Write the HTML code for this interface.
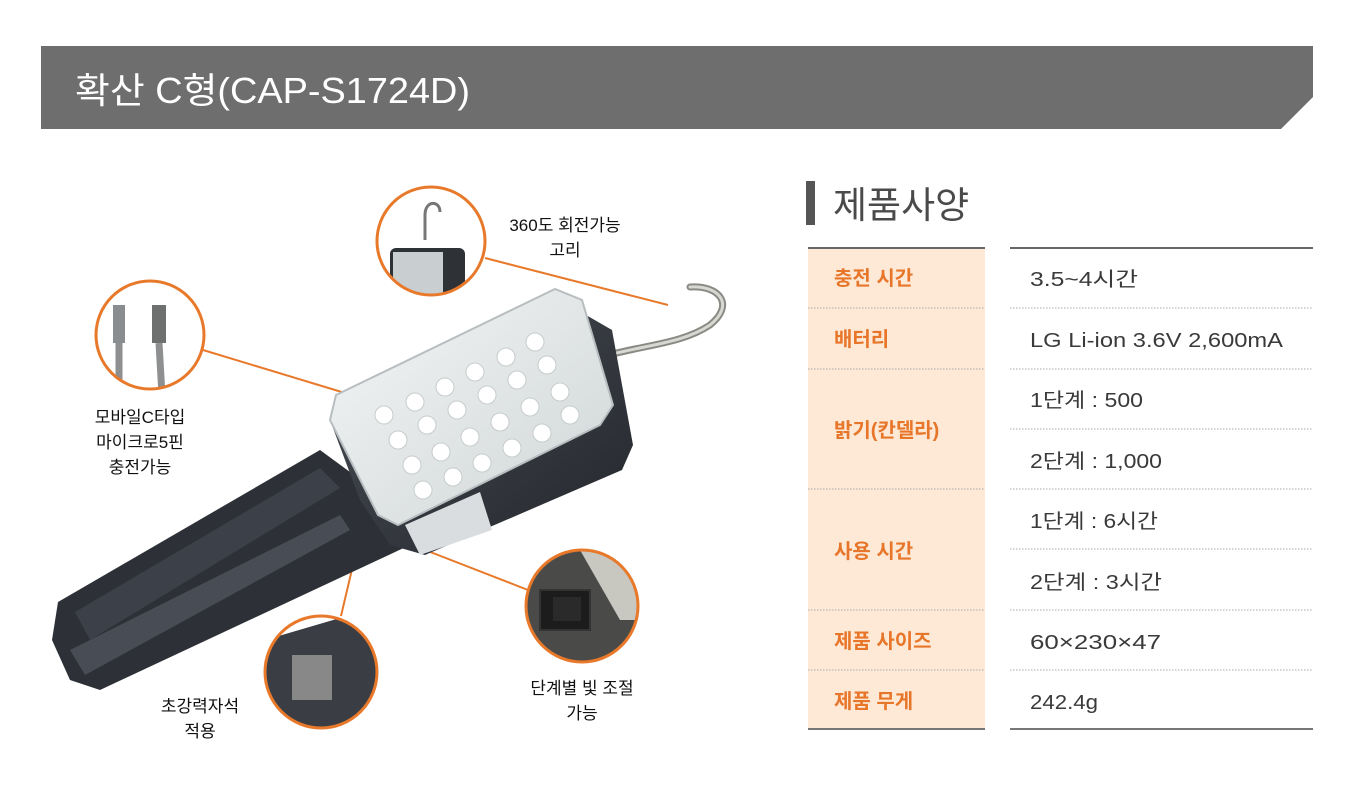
<!DOCTYPE html>
<html><head><meta charset="utf-8"><style>
body{margin:0;width:1359px;height:792px;background:#fff;overflow:hidden;font-family:"Liberation Sans","Noto Sans CJK KR",sans-serif}
svg{position:absolute;left:0;top:0}
</style></head><body>
<svg width="1359" height="792" viewBox="0 0 1359 792" font-family="Liberation Sans, Noto Sans CJK KR, sans-serif">
<defs>
<linearGradient id="hd" x1="0" y1="0" x2="1" y2="1"><stop offset="0" stop-color="#4a4f57"/><stop offset="1" stop-color="#23262b"/></linearGradient>
<linearGradient id="ln" x1="0" y1="0" x2="1" y2="1"><stop offset="0" stop-color="#f4f6f6"/><stop offset="1" stop-color="#cfd5d6"/></linearGradient>
<clipPath id="c1"><circle cx="431" cy="241" r="54"/></clipPath>
<clipPath id="c2"><circle cx="150" cy="335" r="54"/></clipPath>
<clipPath id="c3"><circle cx="321" cy="672" r="56"/></clipPath>
<clipPath id="c4"><circle cx="582" cy="606" r="56"/></clipPath>
</defs>
<!-- header -->
<polygon points="41,46 1313,46 1313,97 1281,129 41,129" fill="#6e6e6e"/>
<text x="75" y="103" font-size="36" fill="#fff" textLength="395" lengthAdjust="spacingAndGlyphs">확산 C형(CAP-S1724D)</text>

<!-- spec title -->
<rect x="806" y="181" width="9" height="44" fill="#555"/>
<text x="833" y="218" font-size="37" fill="#4a4a4a">제품사양</text>

<!-- table -->
<rect x="808" y="247" width="177" height="483" fill="#fde9d6"/>
<line x1="808" y1="248" x2="985" y2="248" stroke="#666" stroke-width="2"/>
<line x1="1010" y1="248" x2="1313" y2="248" stroke="#666" stroke-width="2"/>
<line x1="808" y1="729" x2="985" y2="729" stroke="#777" stroke-width="2"/>
<line x1="1010" y1="729" x2="1313" y2="729" stroke="#777" stroke-width="2"/>
<g stroke="#aaa" stroke-width="1" stroke-dasharray="1.5,1.5">
<line x1="808" y1="308" x2="985" y2="308"/><line x1="1010" y1="308" x2="1313" y2="308"/>
<line x1="808" y1="369" x2="985" y2="369"/><line x1="1010" y1="369" x2="1313" y2="369"/>
<line x1="1010" y1="429" x2="1313" y2="429"/>
<line x1="808" y1="489" x2="985" y2="489"/><line x1="1010" y1="489" x2="1313" y2="489"/>
<line x1="1010" y1="549" x2="1313" y2="549"/>
<line x1="808" y1="610" x2="985" y2="610"/><line x1="1010" y1="610" x2="1313" y2="610"/>
<line x1="808" y1="670" x2="985" y2="670"/><line x1="1010" y1="670" x2="1313" y2="670"/>
</g>
<g font-size="20" font-weight="bold" fill="#e8762a">
<text x="834" y="285">충전 시간</text>
<text x="834" y="346">배터리</text>
<text x="834" y="437">밝기(칸델라)</text>
<text x="834" y="558">사용 시간</text>
<text x="834" y="648">제품 사이즈</text>
<text x="834" y="708">제품 무게</text>
</g>
<g font-size="20" fill="#3a3a3a">
<text x="1030" y="286" textLength="108" lengthAdjust="spacingAndGlyphs">3.5~4시간</text>
<text x="1030" y="347" textLength="253" lengthAdjust="spacingAndGlyphs">LG Li-ion 3.6V 2,600mA</text>
<text x="1030" y="407" textLength="113" lengthAdjust="spacingAndGlyphs">1단계 : 500</text>
<text x="1030" y="468" textLength="132" lengthAdjust="spacingAndGlyphs">2단계 : 1,000</text>
<text x="1030" y="528" textLength="128" lengthAdjust="spacingAndGlyphs">1단계 : 6시간</text>
<text x="1030" y="589" textLength="132" lengthAdjust="spacingAndGlyphs">2단계 : 3시간</text>
<text x="1030" y="649" textLength="131" lengthAdjust="spacingAndGlyphs">60×230×47</text>
<text x="1030" y="709" textLength="68" lengthAdjust="spacingAndGlyphs">242.4g</text>
</g>

<!-- connectors -->
<g stroke="#e8792a" stroke-width="2" fill="none">
<line x1="485" y1="258" x2="668" y2="305"/>
<line x1="203" y1="350" x2="345" y2="393"/>
<line x1="357" y1="548" x2="341" y2="616"/>
<line x1="420" y1="548" x2="528" y2="590"/>
</g>

<!-- handle -->
<polygon points="320,450 395,505 410,545 100,690 70,680 52,640 58,602" fill="#2d3036"/>
<polygon points="75,612 320,468 340,488 90,640" fill="#3b4049"/>
<polygon points="70,650 340,515 350,530 85,675" fill="#474c55"/>
<!-- hook -->
<path d="M598,358 C640,345 680,345 710,325 C735,305 720,285 690,287" stroke="#8a8a85" stroke-width="7" fill="none" stroke-linecap="round"/>
<path d="M598,358 C640,345 680,345 710,325 C735,305 720,285 690,287" stroke="#d8d8d2" stroke-width="3" fill="none" stroke-linecap="round"/>
<!-- head body -->
<polygon points="330,420 560,300 612,330 633,445 622,470 425,555 390,545 360,500" fill="url(#hd)"/>
<!-- lens -->
<polygon points="336,395 555,289 582,300 613,405 600,425 398,525 378,515 330,420" fill="url(#ln)" stroke="#b8bec0" stroke-width="2"/>
<polygon points="405,525 480,492 492,530 420,555" fill="#d9dde0"/>
<g fill="#fff" stroke="#c6cccc" stroke-width="1">
<circle cx="384" cy="415" r="9"/><circle cx="415" cy="402" r="9"/><circle cx="445" cy="387" r="9"/><circle cx="475" cy="372" r="9"/><circle cx="506" cy="357" r="9"/><circle cx="535" cy="342" r="9"/>
<circle cx="398" cy="440" r="9"/><circle cx="427" cy="425" r="9"/><circle cx="457" cy="410" r="9"/><circle cx="487" cy="395" r="9"/><circle cx="517" cy="380" r="9"/><circle cx="547" cy="365" r="9"/>
<circle cx="412" cy="465" r="9"/><circle cx="441" cy="452" r="9"/><circle cx="470" cy="437" r="9"/><circle cx="500" cy="422" r="9"/><circle cx="530" cy="407" r="9"/><circle cx="560" cy="392" r="9"/>
<circle cx="423" cy="490" r="9"/><circle cx="453" cy="477" r="9"/><circle cx="482" cy="463" r="9"/><circle cx="512" cy="448" r="9"/><circle cx="542" cy="433" r="9"/><circle cx="570" cy="415" r="9"/>
</g>

<!-- detail circles -->
<g clip-path="url(#c1)">
<rect x="376" y="186" width="110" height="110" fill="#fff"/>
<path d="M425,240 L425,215 C425,200 440,200 440,212" stroke="#777" stroke-width="3" fill="none"/>
<rect x="390" y="248" width="75" height="50" rx="6" fill="#2e3136"/>
<rect x="393" y="252" width="50" height="45" fill="#c9cfd0"/>
</g>
<g clip-path="url(#c2)">
<rect x="95" y="280" width="110" height="110" fill="#fff"/>
<rect x="113" y="305" width="12" height="38" fill="#8a8d8f"/><rect x="152" y="305" width="14" height="38" fill="#6d706f"/>
<path d="M119,343 L119,395 M159,343 L162,395" stroke="#8d8f90" stroke-width="7"/>
</g>
<g clip-path="url(#c3)">
<rect x="265" y="615" width="115" height="115" fill="#fff"/>
<polygon points="265,640 340,618 380,640 380,730 300,730 265,700" fill="#3a3d43"/>
<rect x="292" y="655" width="40" height="45" fill="#888"/>
</g>
<g clip-path="url(#c4)">
<rect x="526" y="550" width="115" height="115" fill="#4a4a48"/>
<polygon points="580,550 641,550 641,620 620,620" fill="#c8c8c0"/>
<rect x="540" y="590" width="50" height="40" fill="#1c1c1c" stroke="#333" stroke-width="2"/>
<rect x="553" y="597" width="28" height="24" fill="#2a2a2a"/>
</g>
<g fill="none" stroke="#e8792a" stroke-width="3">
<circle cx="431" cy="241" r="54"/><circle cx="150" cy="335" r="54"/><circle cx="321" cy="672" r="56"/><circle cx="582" cy="606" r="56"/>
</g>

<!-- labels -->
<g font-size="17" fill="#111" text-anchor="middle">
<text x="565" y="231">360도 회전가능</text><text x="565" y="256">고리</text>
<text x="140" y="423">모바일C타입</text><text x="140" y="448">마이크로5핀</text><text x="140" y="473">충전가능</text>
<text x="200" y="712">초강력자석</text><text x="200" y="737">적용</text>
<text x="582" y="694">단계별 빛 조절</text><text x="582" y="719">가능</text>
</g>
</svg>
</body></html>
